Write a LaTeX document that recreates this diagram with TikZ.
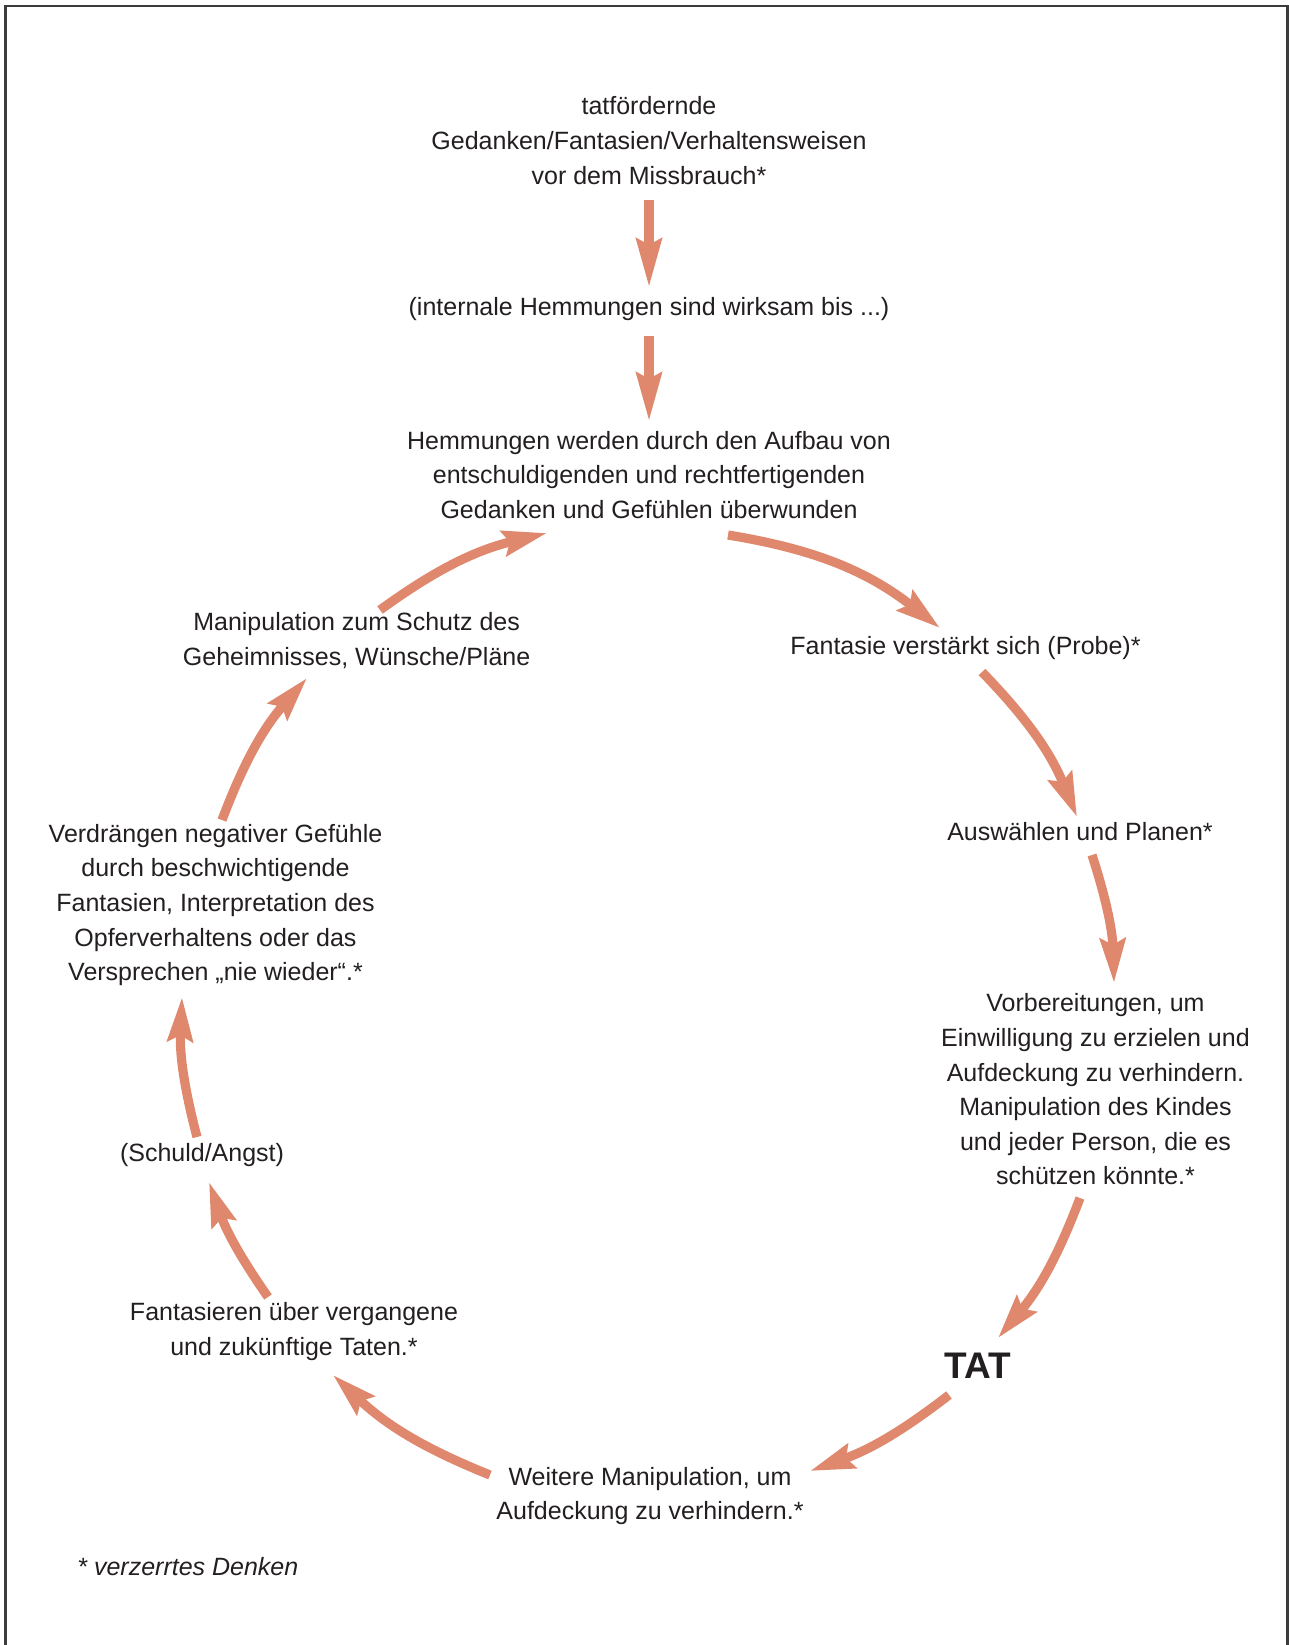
\documentclass[tikz,border=0pt]{standalone}
\usepackage{fontspec}
\setmainfont{Liberation Sans}
\usetikzlibrary{arrows.meta}
\definecolor{arrowc}{RGB}{224,136,110}
\definecolor{textc}{RGB}{35,31,32}
\definecolor{framec}{RGB}{60,60,60}
\begin{document}
\begin{tikzpicture}[x=0.5pt,y=-0.5pt,
  lbl/.style={font=\fontsize{12.5pt}{17.3pt}\selectfont, text=textc, align=center, inner sep=0pt},
  flow/.style={line width=4.6pt, draw=arrowc, -{Stealth[length=22pt,width=12.5pt,inset=3pt]}},
  vflow/.style={line width=4.6pt, draw=arrowc, -{Stealth[length=24pt,width=12.5pt,inset=3pt]}},
]
\useasboundingbox (0,0) rectangle (1289,1645);
\clip (0,0) rectangle (1289,1645);
\fill[white] (0,0) rectangle (1289,1645);
\draw[framec, line width=1.2pt] (5.5,1700) -- (5.5,6) -- (1287.5,6) -- (1287.5,1700);

% texts
\node[lbl] (top) at (649,140.5) {tatfördernde\\Gedanken/Fantasien/Verhaltensweisen\\vor dem Missbrauch*};
\node[lbl] (intern) at (649,309) {(internale Hemmungen sind wirksam bis ...)};
\node[lbl] (hemm) at (649,475) {Hemmungen werden durch den Aufbau von\\entschuldigenden und rechtfertigenden\\Gedanken und Gefühlen überwunden};
\node[lbl] (fant) at (965.5,648) {Fantasie verstärkt sich (Probe)*};
\node[lbl] (ausw) at (1080,832) {Auswählen und Planen*};
\node[lbl] (vorb) at (1095.5,1089.5) {Vorbereitungen, um\\Einwilligung zu erzielen und\\Aufdeckung zu verhindern.\\Manipulation des Kindes\\und jeder Person, die es\\schützen könnte.*};
\node[lbl, font=\fontsize{18.5pt}{20pt}\selectfont\bfseries] (tat) at (978,1366) {TAT};
\node[lbl] (weit) at (650,1496) {Weitere Manipulation, um\\Aufdeckung zu verhindern.*};
\node[lbl] (fzuk) at (294,1331.5) {Fantasieren über vergangene\\und zukünftige Taten.*};
\node[lbl] (schuld) at (202,1155) {(Schuld/Angst)};
\node[lbl] (verdr) at (215.5,905) {Verdrängen negativer Gefühle\\durch beschwichtigende\\Fantasien, Interpretation des\\Opferverhaltens oder das\\Versprechen „nie wieder“.*};
\node[lbl] (manip) at (356.6,640.5) {Manipulation zum Schutz des\\Geheimnisses, Wünsche/Pläne};
\node[lbl, anchor=base west, font=\fontsize{12.5pt}{17.3pt}\selectfont\itshape] (note) at (77,1575) {* verzerrtes Denken};

% arrow end points
\coordinate (a1s) at (649,200);  \coordinate (a1e) at (649,287);
\coordinate (a2s) at (649,336);  \coordinate (a2e) at (649,421);
\coordinate (a3s) at (728,535);  \coordinate (a3e) at (940,628);
\coordinate (a4s) at (982,672);  \coordinate (a4e) at (1077,817);
\coordinate (a5s) at (1092,855); \coordinate (a5e) at (1114,983);
\coordinate (a6s) at (1080,1198);\coordinate (a6e) at (998,1338);
\coordinate (a7s) at (949,1395); \coordinate (a7e) at (810,1471);
\coordinate (a8s) at (490,1475); \coordinate (a8e) at (333,1375);
\coordinate (a9s) at (268,1297); \coordinate (a9e) at (209,1182);
\coordinate (a10s) at (197,1137);\coordinate (a10e) at (182,997);
\coordinate (a11s) at (222,820); \coordinate (a11e) at (307,678);
\coordinate (a12s) at (380,610); \coordinate (a12e) at (547,533);

\draw[vflow] (a1s) -- (a1e);
\draw[vflow] (a2s) -- (a2e);
\draw[flow] (a3s) to[bend left=14.4] (a3e);
\draw[flow] (a4s) to[bend left=10.9] (a4e);
\draw[flow] (a5s) to[bend left=8.1] (a5e);
\draw[flow] (a6s) to[bend left=9.6] (a6e);
\draw[flow] (a7s) to[bend left=9.0] (a7e);
\draw[flow] (a8s) to[bend left=10.6] (a8e);
\draw[flow] (a9s) to[bend left=7.7] (a9e);
\draw[flow] (a10s) to[bend left=8.6] (a10e);
\draw[flow] (a11s) to[bend left=10.2] (a11e);
\draw[flow] (a12s) to[bend left=11.2] (a12e);
\end{tikzpicture}
\end{document}
